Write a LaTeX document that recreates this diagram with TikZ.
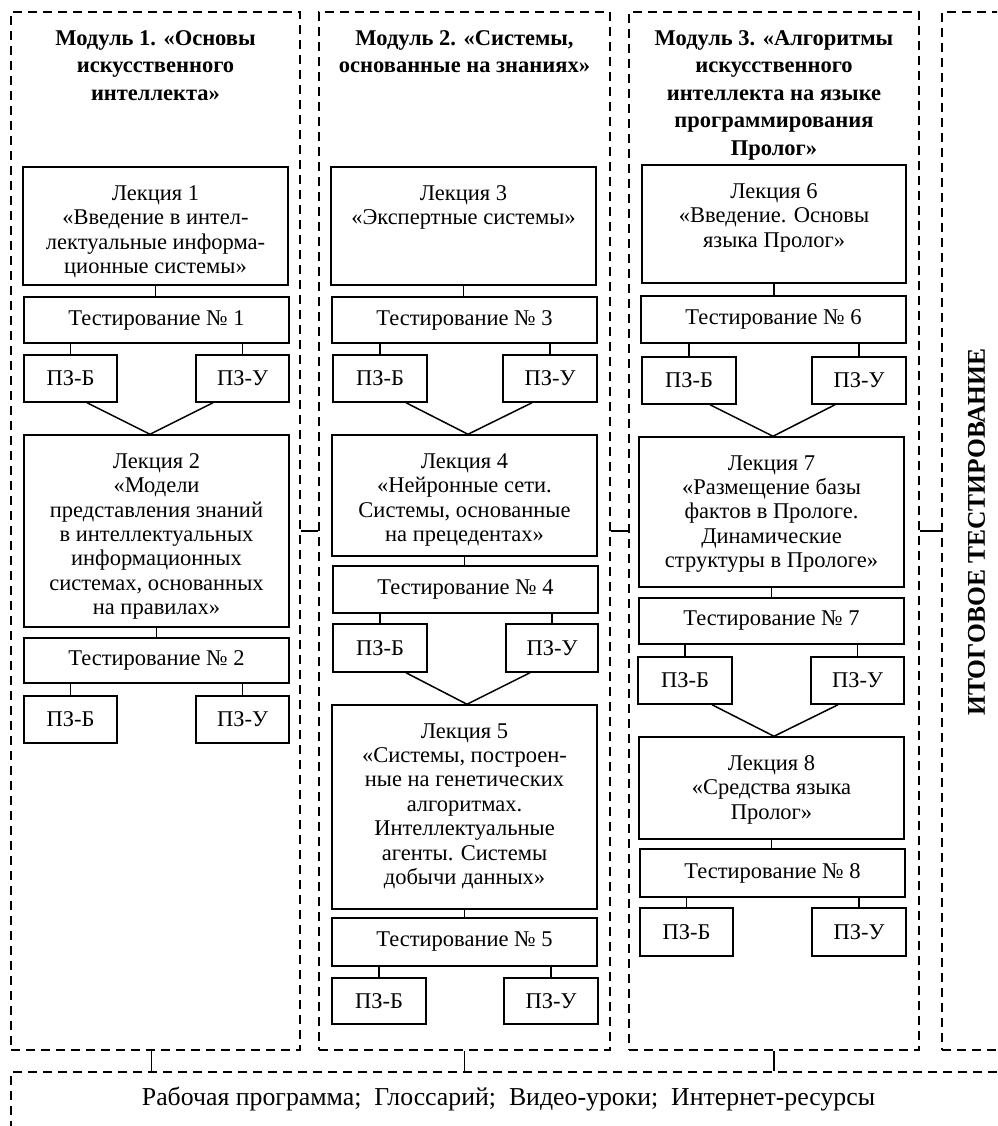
\documentclass[tikz,border=0pt]{standalone}
\usepackage{fontspec}
\setmainfont{Liberation Serif}
\usetikzlibrary{calc}
\newcommand\mkbox[6]{\node[bx,txt,minimum width={(#4)-(#2)},minimum height={(#5)-(#3)}] (#1) at ({((#2)+(#4))/2},{((#3)+(#5))/2}) {#6};}
\newcommand\mklec[6]{\node[bx,minimum width={(#4)-(#2)},minimum height={(#5)-(#3)}] (#1) at ({((#2)+(#4))/2},{((#3)+(#5))/2}) {};
  \node[txt,anchor=north] (#1t) at ([yshift=-19pt]#1.north) {#6};}
\newcommand\mkmod[5]{\node[modbox,minimum width={(#4)-(#2)},minimum height={(#5)-(#3)}] (#1) at ({((#2)+(#4))/2},{((#3)+(#5))/2}) {};}
\newcommand\conv[6]{\draw[ln] ([xshift=#4pt]#1.south) -- ([xshift=#6pt]#3.north) -- ([xshift=#5pt]#2.south);}
\newcommand\down[2]{\draw[ln] (#1.south) -- (#1.south |- #2.north);}
\newcommand\up[2]{\draw[ln] (#1.north) -- (#1.north |- #2.south);}
\begin{document}
\begin{tikzpicture}[x=1pt,y=-1pt,
  bx/.style={draw,line width=1.5pt,inner sep=0pt},
  modbox/.style={draw,dash pattern=on 9pt off 6pt,line width=1.5pt,inner sep=0pt},
  txt/.style={inner sep=0pt,align=center,font=\fontsize{22.5}{24.4}\selectfont},
  ttl/.style={inner sep=0pt,align=center,font=\fontsize{22.5}{27.5}\selectfont\bfseries},
  ln/.style={line width=1.5pt}]
\useasboundingbox (0,0) rectangle (997,1126);
\clip (0,0) rectangle (997,1126);

% module frames
\mkmod{M1}{11}{12}{300}{1050}
\mkmod{M2}{319}{12}{610}{1050}
\mkmod{M3}{629}{12}{919}{1050}
\mkmod{M4}{942}{12}{1030}{1050}
\mkmod{Bot}{11}{1072}{1030}{1160}

% titles
\node[ttl,anchor=north] (h1) at (155.5,30) {Модуль 1. «Основы\\искусственного\\интеллекта»};
\node[ttl,anchor=north] (h2) at (464.5,30) {Модуль 2. «Системы,\\основанные на знаниях»};
\node[ttl,anchor=north] (h3) at (774,30) {Модуль 3. «Алгоритмы\\искусственного\\интеллекта на языке\\программирования\\Пролог»};

% module 1
\mklec{L1}{23}{167}{288}{285}{Лекция 1\\«Введение в интел-\\лектуальные информа-\\ционные системы»}
\mkbox{T1}{24}{297}{289}{343}{Тестирование № 1}
\mkbox{B1}{24}{355}{117}{402}{ПЗ-Б}
\mkbox{U1}{196}{355}{289}{402}{ПЗ-У}
\mklec{L2}{24}{435}{289}{627}{Лекция 2\\«Модели\\представления знаний\\в интеллектуальных\\информационных\\системах, основанных\\на правилах»}
\mkbox{T2}{24}{638}{289}{683}{Тестирование № 2}
\mkbox{B2}{24}{696}{117}{743}{ПЗ-Б}
\mkbox{U2}{196}{696}{289}{743}{ПЗ-У}
\down{L1}{T1}
\up{B1}{T1}\up{U1}{T1}
\conv{B1}{U1}{L2}{16.5}{-29.5}{-6.5}
\down{L2}{T2}
\up{B2}{T2}\up{U2}{T2}

% module 2
\mklec{L3}{331}{167}{596}{285}{Лекция 3\\«Экспертные системы»}
\mkbox{T3}{332}{297}{597}{343}{Тестирование № 3}
\mkbox{B3}{333}{355}{427}{402}{ПЗ-Б}
\mkbox{U3}{503}{355}{597}{402}{ПЗ-У}
\mklec{L4}{332}{435}{597}{556}{Лекция 4\\«Нейронные сети.\\Системы, основанные\\на прецедентах»}
\mkbox{T4}{333}{566}{598}{613}{Тестирование № 4}
\mkbox{B4}{333}{624}{427}{672}{ПЗ-Б}
\mkbox{U4}{506}{624}{598}{672}{ПЗ-У}
\mklec{L5}{332}{705}{597}{909}{Лекция 5\\«Системы, построен-\\ные на генетических\\алгоритмах.\\Интеллектуальные\\агенты. Системы\\добычи данных»}
\mkbox{T5}{332}{918}{597}{966}{Тестирование № 5}
\mkbox{B5}{332}{978}{426}{1024}{ПЗ-Б}
\mkbox{U5}{504}{978}{598}{1024}{ПЗ-У}
\down{L3}{T3}
\up{B3}{T3}\up{U3}{T3}
\conv{B3}{U3}{L4}{26}{-18}{3.5}
\down{L4}{T4}
\up{B4}{T4}\up{U4}{T4}
\conv{B4}{U4}{L5}{26}{-22}{2.5}
\down{L5}{T5}
\up{B5}{T5}\up{U5}{T5}

% module 3
\mklec{L6}{642}{165}{906}{283}{Лекция 6\\«Введение. Основы\\языка Пролог»}
\mkbox{T6}{641}{296}{906}{343}{Тестирование № 6}
\mkbox{B6}{642}{357}{736}{404}{ПЗ-Б}
\mkbox{U6}{812}{357}{906}{404}{ПЗ-У}
\mklec{L7}{639}{437}{904}{587}{Лекция 7\\«Размещение базы\\фактов в Прологе.\\Динамические\\структуры в Прологе»}
\mkbox{T7}{639}{598}{904}{644}{Тестирование № 7}
\mkbox{B7}{638}{657}{732}{704}{ПЗ-Б}
\mkbox{U7}{811}{657}{904}{704}{ПЗ-У}
\mklec{L8}{639}{737}{904}{839}{Лекция 8\\«Средства языка\\Пролог»}
\mkbox{T8}{640}{849}{905}{897}{Тестирование № 8}
\mkbox{B8}{640}{908}{733}{956}{ПЗ-Б}
\mkbox{U8}{812}{908}{906}{956}{ПЗ-У}
\down{L6}{T6}
\up{B6}{T6}\up{U6}{T6}
\conv{B6}{U6}{L7}{21}{-24}{1.5}
\down{L7}{T7}
\up{B7}{T7}\up{U7}{T7}
\conv{B7}{U7}{L8}{27}{-19.5}{2.5}
\down{L8}{T8}
\up{B8}{T8}\up{U8}{T8}

% final testing
\node[inner sep=0pt,rotate=90,font=\fontsize{25.5}{28}\selectfont\bfseries] (itog) at (976.5,532) {ИТОГОВОЕ ТЕСТИРОВАНИЕ};

% links between modules
\draw[ln] (M1.east) -- (M2.west);
\draw[ln] (M2.east) -- (M3.west);
\draw[ln] (M3.east) -- (M3.east -| M4.west);
\coordinate (m1b) at ($(M1.south)+(-4,0)$);
\draw[ln] (m1b) -- (m1b |- Bot.north);
\draw[ln] (M2.south) -- (M2.south |- Bot.north);
\draw[ln] (M3.south) -- (M3.south |- Bot.north);

\node[inner sep=0pt,font=\fontsize{25.8}{30}\selectfont] (res) at (508.5,1099) {Рабочая программа;~ Глоссарий;~ Видео-уроки;~ Интернет-ресурсы};
\end{tikzpicture}
\end{document}
